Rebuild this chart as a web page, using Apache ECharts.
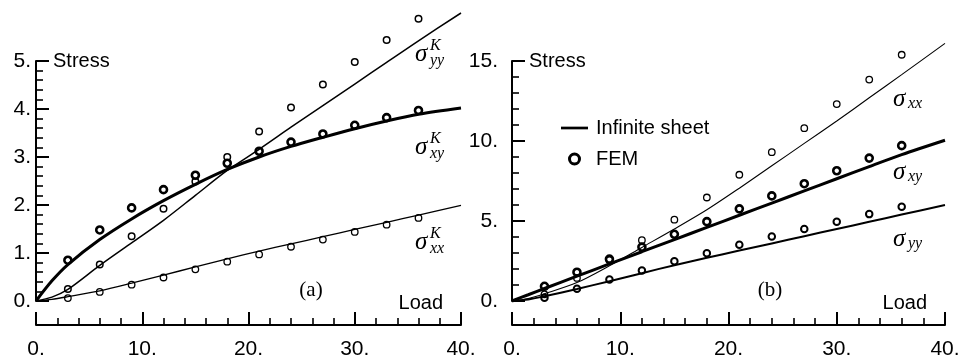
<!DOCTYPE html>
<html>
<head>
<meta charset="utf-8">
<script src="https://cdn.jsdelivr.net/npm/echarts@6/dist/echarts.min.js"></script>
<style>
  html, body { margin: 0; padding: 0; background: #fff; }
  #chart { width: 966px; height: 360px; }
</style>
</head>
<body>
<div id="chart"></div>
<script>
// Loads at which the FEM solution was sampled
const femLoad = [3, 6, 9, 12, 15, 18, 21, 24, 27, 30, 33, 36];
// Loads at which the infinite-sheet solution is tabulated
const sheetLoad = [0, 1.5, 3, 6, 9, 12, 15, 18, 21, 24, 27, 30, 33, 36, 40];

// Panel (a): stress intensity components
const sheetA_yy = [0, 0.08, 0.24, 0.74, 1.21, 1.68, 2.20, 2.72, 3.16, 3.62, 4.07, 4.52, 4.97, 5.42, 6.00];
const sheetA_xy = [0, 0.42, 0.76, 1.28, 1.71, 2.09, 2.43, 2.74, 3.00, 3.22, 3.41, 3.59, 3.75, 3.89, 4.02];
const sheetA_xx = [0, 0.035, 0.09, 0.21, 0.37, 0.54, 0.71, 0.88, 1.04, 1.19, 1.34, 1.49, 1.64, 1.79, 1.99];
const femA_yy = [0.25, 0.76, 1.35, 1.92, 2.49, 3.00, 3.53, 4.03, 4.51, 4.98, 5.44, 5.88];
const femA_xy = [0.85, 1.48, 1.94, 2.32, 2.62, 2.87, 3.12, 3.31, 3.48, 3.66, 3.82, 3.97];
const femA_xx = [0.06, 0.19, 0.34, 0.49, 0.66, 0.82, 0.97, 1.13, 1.28, 1.44, 1.59, 1.73];

// Panel (b): stress components
const sheetB_xx = [0, 0.15, 0.45, 1.15, 2.20, 3.35, 4.50, 5.70, 7.05, 8.45, 9.85, 11.25, 12.70, 14.15, 16.10];
const sheetB_xy = [0, 0.39, 0.78, 1.55, 2.32, 3.08, 3.84, 4.60, 5.36, 6.12, 6.88, 7.64, 8.40, 9.15, 10.05];
const sheetB_yy = [0, 0.10, 0.30, 0.75, 1.24, 1.74, 2.24, 2.70, 3.15, 3.60, 4.05, 4.50, 4.95, 5.40, 6.00];
const femB_xx = [0.42, 1.44, 2.55, 3.80, 5.08, 6.47, 7.89, 9.30, 10.80, 12.31, 13.84, 15.39];
const femB_xy = [0.92, 1.80, 2.62, 3.37, 4.17, 4.96, 5.76, 6.57, 7.33, 8.14, 8.93, 9.71];
const femB_yy = [0.20, 0.76, 1.34, 1.90, 2.48, 2.99, 3.51, 4.03, 4.50, 4.96, 5.43, 5.89];

// Axis ranges and tick steps
const loadRange = [0, 40], loadStep = 10;
const stressRangeA = [0, 5], stressStepA = 1;
const stressRangeB = [0, 15], stressStepB = 5;

const SANS = '"Liberation Sans", Arial, sans-serif';
const SERIF = '"Liberation Serif", "Times New Roman", serif';

const gridA = { left: 36, top: 61, width: 425, height: 242 };
const gridB = { left: 512, top: 61, width: 433, height: 242 };

const pairs = (xs, ys) => xs.map((x, i) => [x, ys[i]]);

function sheetSeries(idx, vals, width) {
  return {
    type: 'line', name: 'Infinite sheet', xAxisIndex: idx, yAxisIndex: idx,
    data: pairs(sheetLoad, vals), smooth: 0.3, symbol: 'none', showSymbol: false,
    clip: false, silent: true, z: 2,
    lineStyle: { color: '#000', width: width, opacity: 1 },
    itemStyle: { color: '#000', opacity: 1 }
  };
}
function femSeries(idx, vals, border, size) {
  return {
    type: 'scatter', name: 'FEM', xAxisIndex: idx, yAxisIndex: idx,
    data: pairs(femLoad, vals), symbol: 'circle', symbolSize: size,
    clip: false, silent: true, z: 3,
    itemStyle: { color: 'rgba(0,0,0,0)', borderColor: '#000', borderWidth: border, opacity: 1 }
  };
}

function xAxisOf(idx) {
  return {
    type: 'value', gridIndex: idx, min: loadRange[0], max: loadRange[1], interval: loadStep,
    offset: 24,
    axisLine: { onZero: false, lineStyle: { color: '#000', width: 2 } },
    axisTick: { inside: true, length: 13, lineStyle: { color: '#000', width: 2 } },
    minorTick: { show: true, splitNumber: 5, length: 7, lineStyle: { color: '#000', width: 1.6 } },
    splitLine: { show: false },
    axisLabel: { color: '#000', fontSize: 21, fontFamily: SANS, margin: 14, formatter: v => v + '.' },
    name: 'Load', nameLocation: 'end', nameGap: 0,
    nameTextStyle: { color: '#000', fontSize: 20, fontFamily: SANS, align: 'right',
      verticalAlign: 'bottom', padding: [0, 18, 12, 0] }
  };
}
function yAxisOf(idx, range, step, margin) {
  return {
    type: 'value', gridIndex: idx, min: range[0], max: range[1], interval: step,
    axisLine: { onZero: false, lineStyle: { color: '#000', width: 2 } },
    axisTick: { inside: true, length: 13, lineStyle: { color: '#000', width: 2 } },
    minorTick: { show: true, splitNumber: 5, length: 7, lineStyle: { color: '#000', width: 1.6 } },
    splitLine: { show: false },
    axisLabel: { color: '#000', fontSize: 21, fontFamily: SANS, margin: margin, formatter: v => v + '.' },
    name: 'Stress', nameLocation: 'end', nameGap: 0,
    nameTextStyle: { color: '#000', fontSize: 20, fontFamily: SANS, align: 'left',
      verticalAlign: 'middle', padding: [0, 0, 0, 17] }
  };
}

const chart = echarts.init(document.getElementById('chart'), null, { renderer: 'canvas' });

const option = {
  animation: false,
  backgroundColor: '#fff',
  grid: [gridA, gridB],
  xAxis: [xAxisOf(0), xAxisOf(1)],
  yAxis: [yAxisOf(0, stressRangeA, stressStepA, 5), yAxisOf(1, stressRangeB, stressStepB, 14)],
  legend: {
    left: 556, top: 113, orient: 'vertical', itemGap: 11, itemWidth: 27, itemHeight: 10,
    selectedMode: false,
    textStyle: { color: '#000', fontSize: 20, fontFamily: SANS, padding: [0, 0, 0, 3] },
    data: [
      { name: 'Infinite sheet', icon: 'path://M0,0H30V3H0Z', itemStyle: { color: '#000', opacity: 1 } },
      { name: 'FEM', icon: 'circle',
        itemStyle: { color: 'rgba(0,0,0,0)', borderColor: '#000', borderWidth: 3, opacity: 1 } }
    ]
  },
  series: [
    sheetSeries(0, sheetA_yy, 1.5),
    sheetSeries(0, sheetA_xy, 3),
    sheetSeries(0, sheetA_xx, 1.3),
    femSeries(0, femA_xy, 2.6, 7),
    femSeries(0, femA_yy, 1.5, 6.5),
    femSeries(0, femA_xx, 1.3, 6.5),
    sheetSeries(1, sheetB_xx, 1.1),
    sheetSeries(1, sheetB_xy, 3),
    sheetSeries(1, sheetB_yy, 2),
    femSeries(1, femB_xx, 1.3, 6.5),
    femSeries(1, femB_xy, 2.6, 7),
    femSeries(1, femB_yy, 2, 6.5)
  ]
};
chart.setOption(option);

// Math-style curve labels: sigma with subscript and optional superscript
function mathLabel(x, base, sub, sup) {
  const big = 25, small = 16;
  const els = [{
    type: 'text', x: x, y: base - 0.3 * big, silent: true,
    style: { text: 'σ', font: 'italic ' + big + 'px ' + SERIF, fill: '#000', verticalAlign: 'middle' }
  }, {
    type: 'text', x: x + 15, y: base + (sup ? 4 : 2) - 0.3 * small, silent: true,
    style: { text: sub, font: 'italic ' + small + 'px ' + SERIF, fill: '#000', verticalAlign: 'middle' }
  }];
  if (sup) {
    els.push({
      type: 'text', x: x + 15, y: base - 11 - 0.3 * small, silent: true,
      style: { text: sup, font: 'italic ' + small + 'px ' + SERIF, fill: '#000', verticalAlign: 'middle' }
    });
  }
  return { type: 'group', children: els };
}
function panelTag(text, cx, cy) {
  return {
    type: 'text', x: cx, y: cy, silent: true,
    style: { text: text, font: '21px ' + SERIF, fill: '#000', align: 'center', verticalAlign: 'middle' }
  };
}

const aRight = gridA.left + gridA.width;
const bRight = gridB.left + gridB.width;
chart.setOption({
  graphic: [
    mathLabel(aRight - 46, gridA.top + 1, 'yy', 'K'),
    mathLabel(aRight - 46, gridA.top + 94, 'xy', 'K'),
    mathLabel(aRight - 46, gridA.top + 189, 'xx', 'K'),
    mathLabel(bRight - 52, gridB.top + 46, 'xx'),
    mathLabel(bRight - 52, gridB.top + 119, 'xy'),
    mathLabel(bRight - 52, gridB.top + 186, 'yy'),
    panelTag('(a)', gridA.left + 275, gridA.top + 229),
    panelTag('(b)', gridB.left + 258, gridB.top + 229)
  ]
});
</script>
</body>
</html>
